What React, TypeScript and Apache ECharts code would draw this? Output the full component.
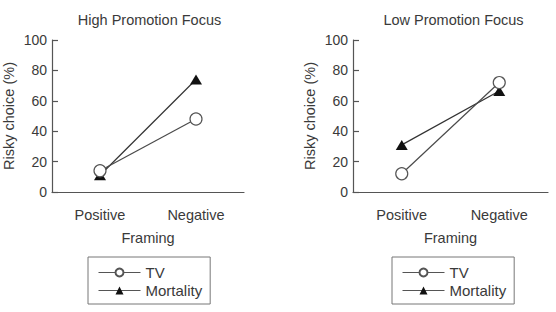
import React, { useEffect, useRef } from "react";
import * as echarts from "echarts";

const categories = ["Positive", "Negative"];
const titles = ["High Promotion Focus", "Low Promotion Focus"];
const seriesNames = ["TV", "Mortality"];
// Risky choice (%) per framing condition
const highTV = [14, 48];
const highMortality = [11, 74];
const lowTV = [12, 72];
const lowMortality = [31, 66.5];
const yTicks = [0, 20, 40, 60, 80, 100];

const FONT = "Liberation Sans, Arial, Helvetica, sans-serif";
const TEXT = "#3a3a3a";
const AXIS = "#555";

const grids = [
  { left: 49, top: 40, width: 195, height: 152 },
  { left: 353, top: 40, width: 195, height: 152 },
];

export default function App() {
  const ref = useRef<HTMLDivElement>(null);

  useEffect(() => {
    if (!ref.current) return;
    const chart = echarts.init(ref.current, undefined, { renderer: "svg" });

    const xAxes = grids.map((_, i) => ({
      type: "category" as const,
      gridIndex: i,
      data: categories,
      boundaryGap: true,
      name: "Framing",
      nameLocation: "middle" as const,
      nameGap: 38,
      nameTextStyle: { fontFamily: FONT, fontSize: 14.5, color: TEXT },
      axisLine: { lineStyle: { color: AXIS, width: 1.2 } },
      axisTick: { alignWithLabel: true, length: 7, lineStyle: { color: AXIS, width: 1.2 } },
      axisLabel: { fontFamily: FONT, fontSize: 14.5, color: TEXT, margin: 15 },
      splitLine: { show: false },
    }));

    const yAxes = grids.map((_, i) => ({
      type: "value" as const,
      gridIndex: i,
      min: yTicks[0],
      max: yTicks[yTicks.length - 1],
      interval: 20,
      name: "Risky choice (%)",
      nameLocation: "middle" as const,
      nameGap: 36,
      nameTextStyle: { fontFamily: FONT, fontSize: 14.5, color: TEXT },
      axisLine: { show: true, lineStyle: { color: AXIS, width: 1.2 } },
      axisTick: { show: true, inside: true, length: 6, lineStyle: { color: AXIS, width: 1.2 } },
      axisLabel: { fontFamily: FONT, fontSize: 14, color: TEXT, margin: 5 },
      splitLine: { show: false },
    }));

    const tvSeries = (data: number[], i: number) => ({
      name: seriesNames[0],
      type: "line" as const,
      xAxisIndex: i,
      yAxisIndex: i,
      data,
      symbol: "circle",
      symbolSize: 12,
      lineStyle: { color: "#4a4a4a", width: 1.2 },
      itemStyle: { color: "#ffffff", borderColor: "#555", borderWidth: 1.2 },
      z: 3,
    });
    const mortSeries = (data: number[], i: number) => ({
      name: seriesNames[1],
      type: "line" as const,
      xAxisIndex: i,
      yAxisIndex: i,
      data,
      symbol: "triangle",
      symbolSize: [12, 10],
      lineStyle: { color: "#333", width: 1.2 },
      itemStyle: { color: "#111", borderColor: "#111", borderWidth: 0 },
      z: 2,
    });

    const legendBase = {
      orient: "vertical" as const,
      top: 257,
      padding: [8, 8, 6, 10],
      itemGap: 3,
      itemWidth: 42,
      itemHeight: 10,
      borderColor: "#777",
      borderWidth: 1,
      data: seriesNames,
      selectedMode: false,
      lineStyle: { width: 1, color: "#555" },
      textStyle: { fontFamily: FONT, fontSize: 15, color: TEXT, padding: [0, 0, 0, 0] },
    };

    chart.setOption({
      animation: false,
      title: titles.map((t, i) => ({
        text: t,
        left: grids[i].left + grids[i].width / 2 - 2,
        top: 7,
        textAlign: "center",
        textStyle: { fontFamily: FONT, fontSize: 14.5, fontWeight: "normal", color: TEXT },
      })),
      grid: grids,
      xAxis: xAxes,
      yAxis: yAxes,
      legend: [
        { ...legendBase, left: 88 },
        { ...legendBase, left: 392 },
      ],
      series: [
        tvSeries(highTV, 0),
        mortSeries(highMortality, 0),
        tvSeries(lowTV, 1),
        mortSeries(lowMortality, 1),
      ],
    });

    return () => chart.dispose();
  }, []);

  return <div ref={ref} style={{ width: 556, height: 312, position: "absolute", left: 0, top: 0, background: "#fff" }} />;
}
